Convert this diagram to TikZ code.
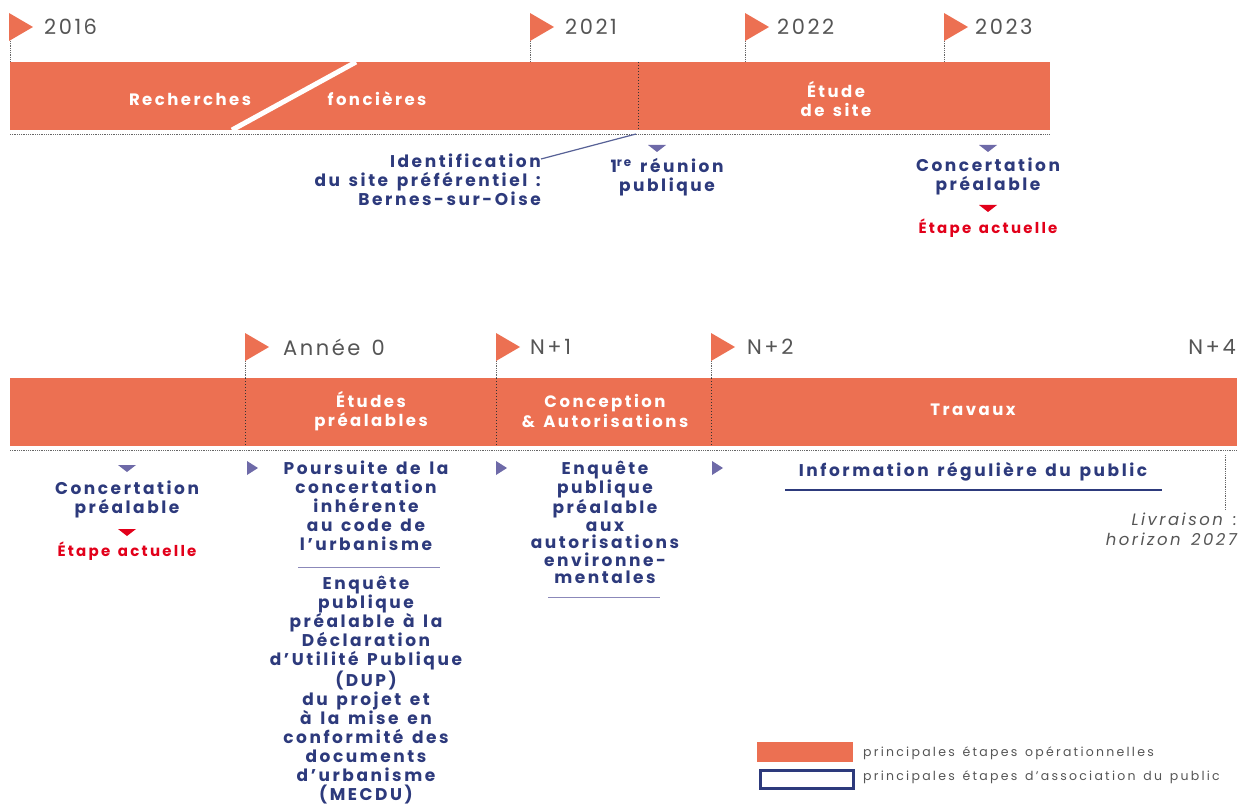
\documentclass[tikz,border=0pt]{standalone}
\usepackage{fontspec}
\setmainfont{Poppins}[LetterSpace=15,WordSpace=1.4]
\definecolor{orng}{HTML}{EC7052}
\definecolor{navy}{HTML}{2D3A7C}
\definecolor{violetc}{HTML}{6E6AA8}
\definecolor{redc}{HTML}{E2001A}
\definecolor{grayt}{HTML}{555555}
\newcommand\flagmark[2]{\fill[orng] (#1,#2) -- ++(24,14) -- ++(-24,14) -- cycle;}
\newcommand\downtri[3]{\fill[#3] (#1-9,#2) -- (#1+9,#2) -- (#1,#2+7) -- cycle;}
\newcommand\righttri[2]{\fill[violetc] (#1,#2) -- (#1+11,#2+7) -- (#1,#2+14) -- cycle;}
\begin{document}
\begin{tikzpicture}[x=1pt,y=-1pt,
  bandbox/.style={fill=orng, draw=none},
  yearlbl/.style={anchor=west, inner sep=0, text=grayt, font=\fontsize{21}{19}\selectfont\addfontfeatures{LetterSpace=12}},
  bandtxt/.style={text=white, font=\bfseries\fontsize{16.5}{19.5}\selectfont, align=center, inner sep=0},
  pubtxt/.style={text=navy, font=\bfseries\fontsize{17}{19}\selectfont, align=center, inner sep=0, anchor=north},
  redtxt/.style={text=redc, font=\bfseries\fontsize{15}{19}\selectfont, inner sep=0},
  dots/.style={black!60, densely dotted, line width=0.8pt},
  vdots/.style={black!80, dotted, line width=1pt},
  rule/.style={violetc!80, line width=0.8pt},
  legtxt/.style={anchor=west, inner sep=0, text=grayt, font=\fontsize{12.5}{12}\selectfont\addfontfeatures{LetterSpace=18}}
]
\useasboundingbox (0,0) rectangle (1239,805);

% ---------- top timeline ----------
\flagmark{9}{13}\flagmark{530}{13}\flagmark{745}{13}\flagmark{944}{13}
\node[yearlbl] (y2016) at (44,27) {2016};
\node[yearlbl] (y2021) at (565,27) {2021};
\node[yearlbl] (y2022) at (777,27) {2022};
\node[yearlbl] (y2023) at (975,27) {2023};
\draw[dots] (10,41) -- (10,62) (530,41) -- (530,62) (745,41) -- (745,62) (944,41) -- (944,62);

\node[bandbox, minimum width=1040, minimum height=68, inner sep=0, anchor=north west] (bandA) at (10,62) {};
\draw[white, line width=5pt] (232,130) -- (356,62);
\draw[vdots] (638,62) -- (638,130);
\node[bandtxt] (rech) at (190,99) {Recherches};
\node[bandtxt] (fonc) at (377,99) {foncières};
\node[bandtxt] (etude) at (836,99) {Étude\\de site};
\draw[dots] (10,134) -- (1050,134);

\node[pubtxt, anchor=north east, align=right] (ident) at (541,154) {Identification\\du site préférentiel :\\Bernes-sur-Oise};
\coordinate (identend) at (636,134);
\path (ident.north east) ++(0,5) coordinate (identstart);
\draw[navy!80, line width=1.2pt] (identstart) -- (identend);

\downtri{657}{145}{violetc}
\node[pubtxt] (reunion) at (667,158) {1\textsuperscript{re} réunion\\publique};
\downtri{988}{145}{violetc}
\node[pubtxt] (concA) at (988,158) {Concertation\\préalable};
\downtri{988}{205}{redc}
\node[redtxt] (etapeA) at (988,228) {Étape actuelle};

% ---------- bottom timeline ----------
\flagmark{245}{333}\flagmark{496}{333}\flagmark{711}{333}
\node[yearlbl] (an0) at (283,347) {Année 0};
\node[yearlbl] (n1) at (530,347) {N+1};
\node[yearlbl] (n2) at (747,347) {N+2};
\node[yearlbl, anchor=east] (n4) at (1236,347) {N+4};

\node[bandbox, minimum width=1227, minimum height=68, inner sep=0, anchor=north west] (bandB) at (10,378) {};
\draw[dots] (245,361) -- (245,378) (496,361) -- (496,378) (711,361) -- (711,378);
\draw[vdots] (245,378) -- (245,446) (496,378) -- (496,446) (711,378) -- (711,446);
\node[bandtxt] (etudes) at (371,411) {Études\\préalables};
\node[bandtxt] (concep) at (605,411) {Conception\\\& Autorisations};
\node[bandtxt] (trav) at (973,410) {Travaux};
\draw[dots] (10,450) -- (1237,450);
\draw[dots] (1225,455) -- (1225,510);

\downtri{127}{465}{violetc}
\node[pubtxt] (concB) at (127,481) {Concertation\\préalable};
\downtri{127}{529}{redc}
\node[redtxt] (etapeB) at (127,551) {Étape actuelle};

\righttri{247}{461}
\righttri{496}{461}
\righttri{712}{461}

\node[pubtxt] (pours) at (366,461) {Poursuite de la\\concertation\\inhérente\\au code de\\l’urbanisme};
\draw[rule] (298,567) -- (440,567);
\node[pubtxt] (dup) at (366,576) {Enquête\\publique\\préalable à la\\Déclaration\\d'Utilité Publique\\(DUP)\\du projet et\\à la mise en\\conformité des\\documents\\d'urbanisme\\(MECDU)};

\node[pubtxt, font=\bfseries\fontsize{17}{17.5}\selectfont] (env) at (605,461) {Enquête\\publique\\préalable\\aux\\autorisations\\environne-\\mentales};
\draw[rule] (548,597) -- (660,597);

\node[pubtxt, anchor=center] (info) at (973,472) {Information régulière du public};
\draw[navy, line width=1.6pt] (785,490) -- (1162,490);

\node[inner sep=0, anchor=north east, align=right, text=grayt, font=\itshape\fontsize{16.5}{20}\selectfont] (livr) at (1237,513) {Livraison :\\horizon 2027};

% ---------- legend ----------
\node[fill=orng, minimum width=96, minimum height=20, inner sep=0, anchor=north west] (legA) at (757,742) {};
\node[draw=navy, line width=3pt, fill=white, minimum width=93, minimum height=18, inner sep=0, anchor=north west] (legB) at (758.5,768.5) {};
\node[legtxt] (legAt) at (863,753) {principales étapes opérationnelles};
\node[legtxt] (legBt) at (863,777) {principales étapes d’association du public};
\end{tikzpicture}
\end{document}
